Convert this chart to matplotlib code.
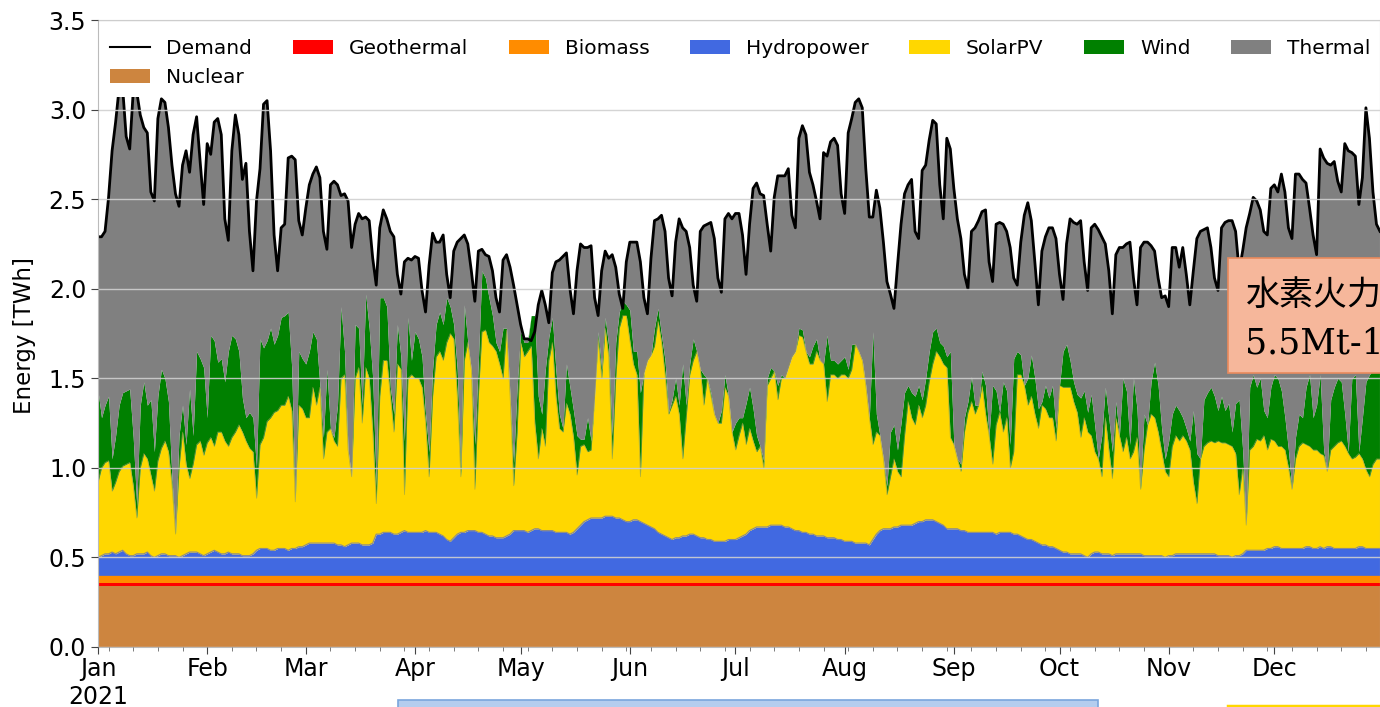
import numpy as np
import pandas as pd
import matplotlib
matplotlib.use('Agg')
import matplotlib.pyplot as plt
import matplotlib.dates as mdates
from matplotlib.patches import Rectangle
from matplotlib.lines import Line2D

# Daily values for 2021 [TWh]
dates = pd.date_range('2021-01-01', '2021-12-31', freq='D')

demand = [
    2.29, 2.29, 2.32, 2.51, 2.77, 2.93, 3.12, 3.12, 2.85, 2.78,
    3.10, 3.10, 2.97, 2.90, 2.87, 2.54, 2.49, 2.95, 3.06, 3.04,
    2.90, 2.69, 2.53, 2.46, 2.69, 2.77, 2.65, 2.86, 2.96, 2.71,
    2.47, 2.81, 2.75, 2.93, 2.95, 2.86, 2.39, 2.27, 2.77, 2.97,
    2.86, 2.61, 2.70, 2.32, 2.10, 2.49, 2.67, 3.03, 3.05, 2.77,
    2.30, 2.10, 2.34, 2.36, 2.73, 2.74, 2.72, 2.38, 2.30, 2.45,
    2.58, 2.64,
    2.68, 2.62, 2.32, 2.22, 2.58, 2.60, 2.58, 2.52, 2.53,
    2.49, 2.23, 2.36, 2.42, 2.39, 2.40, 2.38, 2.17, 2.02, 2.34,
    2.44, 2.39, 2.32, 2.29, 2.08, 1.97, 2.15, 2.17, 2.16, 2.18,
    2.17, 1.99, 1.87, 2.13, 2.31, 2.26, 2.26, 2.30, 2.08, 1.95,
    2.21, 2.26, 2.28, 2.30, 2.25, 2.10, 1.93, 2.21, 2.22, 2.19,
    2.18, 2.10, 1.95, 1.87, 2.16, 2.19, 2.12, 2.02, 1.91, 1.80,
    1.72, 1.72, 1.71, 1.76, 1.91, 1.99, 1.91, 1.81, 2.09, 2.15,
    2.16, 2.18, 2.20, 2.00, 1.86, 2.10, 2.25, 2.23, 2.23, 2.24,
    1.95, 1.85, 2.10, 2.21, 2.17, 2.19, 2.12, 1.97, 1.89, 2.15,
    2.26, 2.26, 2.26, 2.15, 1.95, 1.86, 2.17, 2.38, 2.39, 2.41,
    2.32, 2.06, 1.96, 2.26, 2.39, 2.34, 2.32, 2.23, 2.02, 1.93,
    2.32, 2.35, 2.36, 2.37, 2.28, 2.06, 1.98, 2.39, 2.42, 2.39,
    2.42, 2.42,
    2.30, 2.08, 2.36, 2.56, 2.59, 2.53, 2.52, 2.36, 2.21,
    2.51, 2.63, 2.63, 2.63, 2.67, 2.41, 2.34, 2.84, 2.91, 2.86,
    2.65, 2.58, 2.49, 2.39, 2.76, 2.74, 2.82, 2.84, 2.80, 2.53,
    2.42, 2.87, 2.95, 3.04, 3.06, 3.01, 2.67, 2.40, 2.40, 2.55,
    2.45, 2.26, 2.04, 1.97, 1.89, 2.13, 2.36, 2.53, 2.58, 2.61,
    2.32, 2.28, 2.66, 2.69, 2.83, 2.94, 2.92, 2.58, 2.39, 2.84,
    2.78, 2.56, 2.39, 2.28, 2.08, 2.00, 2.32, 2.34, 2.38, 2.43,
    2.44, 2.15, 2.04, 2.36, 2.37, 2.36, 2.32, 2.23, 2.06, 2.02,
    2.26, 2.41, 2.48, 2.38, 2.15, 1.91, 2.21, 2.29, 2.34, 2.34,
    2.28, 2.08, 1.94, 2.25, 2.39, 2.37, 2.36, 2.38, 2.15, 1.99,
    2.34, 2.36, 2.33, 2.29, 2.25, 2.10, 1.86, 2.19, 2.23, 2.23,
    2.25, 2.26, 2.06, 1.91, 2.23, 2.26, 2.26, 2.24, 2.21, 2.06,
    1.95, 1.96,
    1.90, 2.23, 2.23, 2.12, 2.23, 2.08, 1.91, 2.10, 2.28,
    2.32, 2.33, 2.34, 2.23, 2.06, 1.99, 2.34, 2.37, 2.38, 2.38,
    2.32, 2.10, 2.21, 2.34, 2.42, 2.51, 2.49, 2.44, 2.32, 2.30,
    2.56, 2.58, 2.54, 2.64, 2.54, 2.34, 2.28, 2.64, 2.64, 2.61,
    2.59, 2.45, 2.30, 2.19, 2.78, 2.73, 2.70, 2.69, 2.71, 2.60,
    2.54, 2.81, 2.77, 2.76, 2.74, 2.47, 2.62, 3.01, 2.84, 2.54,
    2.36, 2.32,
]

# top of the hydropower layer (stacked)
hydro_top = [
    0.50, 0.51, 0.52, 0.52, 0.53, 0.52, 0.53, 0.54, 0.52, 0.51,
    0.51, 0.52, 0.52, 0.52, 0.53, 0.51, 0.50, 0.51, 0.52, 0.52,
    0.51, 0.51, 0.51, 0.50, 0.51, 0.52, 0.53, 0.53, 0.53, 0.52,
    0.51, 0.52, 0.53, 0.54, 0.53, 0.52, 0.52, 0.53, 0.52, 0.52,
    0.52, 0.51, 0.51, 0.51, 0.52, 0.54, 0.55, 0.55, 0.55, 0.54,
    0.54, 0.55, 0.55, 0.55, 0.54, 0.55, 0.55, 0.56, 0.56, 0.57,
    0.58, 0.58,
    0.58, 0.58, 0.58, 0.58, 0.58, 0.58, 0.57, 0.57, 0.56,
    0.57, 0.58, 0.58, 0.58, 0.57, 0.57, 0.57, 0.58, 0.63, 0.63,
    0.64, 0.64, 0.64, 0.63, 0.63, 0.64, 0.65, 0.64, 0.64, 0.64,
    0.64, 0.64, 0.65, 0.64, 0.64, 0.64, 0.63, 0.62, 0.60, 0.59,
    0.61, 0.63, 0.64, 0.64, 0.65, 0.65, 0.65, 0.64, 0.64, 0.63,
    0.62, 0.62, 0.61, 0.61, 0.61, 0.62, 0.63, 0.65, 0.65, 0.65,
    0.65, 0.64, 0.65, 0.66, 0.66, 0.65, 0.65, 0.65, 0.65, 0.64,
    0.64, 0.64, 0.64, 0.63, 0.64, 0.66, 0.68, 0.70, 0.71, 0.72,
    0.72, 0.72, 0.72, 0.73, 0.73, 0.73, 0.72, 0.72, 0.71, 0.70,
    0.70, 0.71, 0.71, 0.70, 0.69, 0.68, 0.67, 0.66, 0.64, 0.63,
    0.62, 0.61, 0.60, 0.61, 0.61, 0.62, 0.62, 0.63, 0.63, 0.62,
    0.61, 0.61, 0.60, 0.60, 0.59, 0.59, 0.59, 0.59, 0.60, 0.60,
    0.60, 0.61,
    0.62, 0.63, 0.65, 0.66, 0.67, 0.67, 0.67, 0.67, 0.68,
    0.68, 0.68, 0.68, 0.67, 0.67, 0.66, 0.65, 0.65, 0.64, 0.64,
    0.63, 0.63, 0.62, 0.62, 0.62, 0.61, 0.61, 0.61, 0.60, 0.60,
    0.59, 0.59, 0.59, 0.58, 0.58, 0.58, 0.58, 0.57, 0.60, 0.63,
    0.65, 0.66, 0.66, 0.66, 0.67, 0.67, 0.68, 0.68, 0.68, 0.68,
    0.69, 0.70, 0.70, 0.71, 0.71, 0.71, 0.70, 0.69, 0.68, 0.66,
    0.66, 0.66, 0.66, 0.65, 0.65, 0.64, 0.64, 0.64, 0.64, 0.64,
    0.64, 0.64, 0.64, 0.63, 0.64, 0.64, 0.64, 0.64, 0.63, 0.63,
    0.62, 0.61, 0.60, 0.60, 0.59, 0.58, 0.57, 0.57, 0.56, 0.56,
    0.55, 0.54, 0.53, 0.53, 0.52, 0.52, 0.52, 0.52, 0.51, 0.50,
    0.52, 0.53, 0.53, 0.52, 0.52, 0.52, 0.51, 0.52, 0.52, 0.52,
    0.52, 0.52, 0.52, 0.52, 0.52, 0.51, 0.51, 0.51, 0.51, 0.51,
    0.51, 0.50,
    0.51, 0.51, 0.52, 0.52, 0.52, 0.52, 0.52, 0.52, 0.52,
    0.52, 0.52, 0.52, 0.52, 0.52, 0.51, 0.51, 0.51, 0.51, 0.50,
    0.51, 0.51, 0.52, 0.54, 0.54, 0.54, 0.54, 0.54, 0.54, 0.55,
    0.55, 0.56, 0.56, 0.55, 0.55, 0.55, 0.55, 0.55, 0.55, 0.55,
    0.56, 0.56, 0.55, 0.55, 0.56, 0.55, 0.56, 0.56, 0.55, 0.55,
    0.55, 0.55, 0.55, 0.55, 0.55, 0.56, 0.56, 0.55, 0.55, 0.55,
    0.55, 0.55,
]

# top of the solar PV layer (stacked)
solar_top = [
    0.92, 1.00, 1.03, 1.04, 0.87, 0.92, 0.98, 1.01, 1.02, 1.03,
    0.90, 0.72, 1.00, 1.08, 1.05, 0.96, 0.87, 1.04, 1.11, 1.15,
    1.09, 0.90, 0.63, 1.00, 1.20, 1.02, 0.94, 1.02, 1.13, 1.15,
    1.07, 1.14, 1.17, 1.12, 1.20, 1.20, 1.15, 1.12, 1.17, 1.20,
    1.24, 1.20, 1.15, 1.11, 1.09, 0.83, 1.13, 1.17, 1.26, 1.28,
    1.31, 1.32, 1.35, 1.35, 1.40, 1.32, 0.81, 1.35, 1.33, 1.28,
    1.28, 1.45,
    1.35, 1.45, 1.05, 1.20, 1.22, 1.15, 1.12, 1.50, 1.52,
    1.10, 0.95, 1.50, 1.56, 1.25, 1.56, 1.50, 1.20, 0.80, 1.40,
    1.60, 1.60, 1.40, 1.20, 1.58, 1.55, 0.85, 1.50, 1.52, 1.50,
    1.50, 1.45, 1.25, 0.95, 1.40, 1.62, 1.65, 1.60, 1.70, 1.75,
    1.72, 1.40, 0.95, 1.60, 1.70, 1.55, 0.88, 1.40, 1.76, 1.77,
    1.70, 1.68, 1.65, 1.58, 1.50, 1.77, 1.40, 0.90, 1.20, 1.70,
    1.62, 1.65, 1.68, 1.25, 1.05, 1.22, 1.12, 1.60, 1.70, 1.40,
    1.22, 1.20, 1.36, 1.30, 1.17, 0.96, 1.12, 1.13, 1.09, 1.10,
    1.40, 1.72, 1.50, 1.78, 1.62, 1.05, 1.50, 1.78, 1.85, 1.85,
    1.71, 1.58, 1.52, 0.95, 1.53, 1.60, 1.63, 1.68, 1.82, 1.70,
    1.52, 1.30, 1.35, 1.40, 1.30, 1.05, 1.28, 1.52, 1.60, 1.65,
    1.55, 1.35, 1.50, 1.40, 1.30, 1.25, 1.25, 1.45, 1.40, 1.20,
    1.10, 1.18,
    1.25, 1.13, 1.22, 1.15, 1.09, 1.12, 1.00, 1.46, 1.50,
    1.54, 1.38, 1.50, 1.50, 1.56, 1.62, 1.65, 1.74, 1.73, 1.65,
    1.58, 1.58, 1.65, 1.60, 1.58, 1.37, 1.52, 1.52, 1.50, 1.52,
    1.52, 1.50, 1.55, 1.69, 1.65, 1.60, 1.46, 1.28, 1.13, 1.20,
    1.18, 1.05, 0.85, 0.95, 1.05, 0.98, 0.95, 1.18, 1.37, 1.28,
    1.24, 1.35, 1.28, 1.35, 1.48, 1.58, 1.65, 1.62, 1.58, 1.56,
    1.17, 1.13, 1.05, 0.98, 1.20, 1.31, 1.37, 1.30, 1.35, 1.46,
    1.30, 1.18, 1.02, 1.24, 1.31, 1.20, 1.28, 1.00, 1.09, 1.52,
    1.52, 1.46, 1.35, 1.40, 1.30, 1.22, 1.35, 1.33, 1.28, 1.28,
    1.15, 1.46, 1.45, 1.45, 1.45, 1.37, 1.31, 1.17, 1.28, 1.20,
    1.18, 1.09, 1.05, 0.95, 1.28, 1.10, 0.94, 1.28, 1.18, 1.09,
    1.17, 1.05, 1.09, 1.17, 0.88, 1.10, 1.24, 1.30, 1.28, 1.20,
    1.09, 0.98,
    0.95, 1.12, 1.18, 1.15, 1.18, 1.15, 1.10, 0.92, 0.80,
    1.05, 1.12, 1.14, 1.15, 1.14, 1.15, 1.14, 1.14, 1.13, 1.12,
    1.08, 0.85, 1.00, 0.68, 1.10, 1.12, 1.16, 1.15, 1.18, 1.10,
    1.16, 1.15, 1.12, 1.12, 1.10, 1.00, 0.88, 1.05, 1.12, 1.14,
    1.13, 1.12, 1.10, 1.10, 1.08, 1.07, 0.98, 1.10, 1.12, 1.14,
    1.15, 1.12, 1.08, 1.05, 1.06, 1.08, 1.05, 0.99, 0.95, 1.02,
    1.05, 1.05,
]

# top of the wind layer (stacked)
wind_top = [
    1.43, 1.28, 1.35, 1.40, 1.05, 1.18, 1.35, 1.42, 1.43, 1.44,
    1.17, 0.79, 1.35, 1.48, 1.35, 1.38, 1.09, 1.40, 1.55, 1.50,
    1.37, 0.94, 0.64, 1.18, 1.35, 1.13, 1.44, 1.18, 1.65, 1.61,
    1.56, 1.28, 1.74, 1.71, 1.59, 1.61, 1.48, 1.65, 1.74, 1.72,
    1.65, 1.39, 1.28, 1.31, 1.28, 1.00, 1.72, 1.67, 1.71, 1.78,
    1.69, 1.74, 1.84, 1.85, 1.87, 1.56, 0.81, 1.65, 1.61, 1.58,
    1.65, 1.76,
    1.72, 1.46, 1.17, 1.55, 1.20, 1.17, 1.35, 1.90, 1.65,
    1.00, 0.92, 1.80, 1.78, 1.35, 1.97, 1.78, 1.50, 0.90, 1.95,
    1.95, 1.90, 1.45, 1.30, 1.80, 1.62, 1.15, 1.84, 1.60, 1.76,
    1.72, 1.62, 1.30, 1.09, 1.55, 1.80, 1.87, 1.80, 1.95, 1.90,
    1.80, 1.55, 1.00, 1.91, 1.60, 1.15, 1.13, 1.60, 2.10, 2.06,
    1.95, 1.85, 1.70, 1.65, 1.78, 1.78, 1.30, 1.03, 1.45, 1.76,
    1.70, 1.70, 1.85, 1.85, 1.40, 1.30, 1.55, 1.73, 1.84, 1.55,
    1.30, 1.22, 1.58, 1.45, 1.32, 1.18, 1.16, 1.16, 1.28, 1.15,
    1.38, 1.76, 1.55, 1.84, 1.68, 1.18, 1.70, 1.87, 1.93, 1.91,
    1.88, 1.65, 1.65, 1.42, 1.52, 1.58, 1.62, 1.78, 1.89, 1.74,
    1.60, 1.31, 1.38, 1.50, 1.35, 1.58, 1.35, 1.58, 1.72, 1.65,
    1.52, 1.52, 1.50, 1.42, 1.30, 1.22, 1.32, 1.52, 1.40, 1.20,
    1.25, 1.28,
    1.28, 1.36, 1.45, 1.33, 1.18, 1.10, 1.04, 1.50, 1.56,
    1.54, 1.46, 1.52, 1.48, 1.46, 1.58, 1.65, 1.78, 1.77, 1.65,
    1.62, 1.68, 1.72, 1.60, 1.52, 1.74, 1.60, 1.60, 1.58, 1.60,
    1.62, 1.55, 1.69, 1.64, 1.52, 1.42, 1.30, 1.15, 1.76, 1.30,
    1.08, 0.95, 0.90, 1.20, 1.24, 1.10, 1.25, 1.42, 1.46, 1.42,
    1.40, 1.46, 1.38, 1.50, 1.65, 1.76, 1.78, 1.70, 1.68, 1.62,
    1.65, 1.13, 1.04, 1.02, 1.28, 1.37, 1.51, 1.35, 1.28, 1.54,
    1.46, 1.18, 1.46, 1.43, 1.17, 1.48, 1.43, 1.13, 1.61, 1.65,
    1.63, 1.37, 1.50, 1.63, 1.50, 1.33, 1.37, 1.46, 1.39, 1.46,
    1.22, 1.41, 1.65, 1.69, 1.60, 1.48, 1.41, 1.39, 1.43, 1.31,
    1.41, 1.24, 0.94, 1.18, 1.45, 1.28, 1.09, 1.37, 1.18, 1.50,
    1.43, 1.13, 1.50, 1.33, 0.90, 1.30, 1.20, 1.48, 1.59, 1.46,
    1.22, 1.05,
    1.15, 1.30, 1.35, 1.32, 1.28, 1.22, 1.15, 1.32, 1.08,
    0.75, 1.38, 1.42, 1.45, 1.40, 1.32, 1.40, 1.32, 1.36, 1.20,
    1.36, 1.38, 1.10, 0.68, 1.45, 1.52, 1.45, 1.50, 1.32, 1.28,
    1.45, 1.52, 1.50, 1.43, 1.28, 1.10, 0.85, 1.17, 1.30, 1.28,
    1.45, 1.52, 1.28, 1.35, 1.52, 1.10, 0.92, 1.38, 1.45, 1.50,
    1.48, 1.30, 1.09, 1.50, 1.52, 1.09, 1.28, 1.48, 1.52, 1.55,
    1.55, 1.55,
]

# flat base layers (stack tops)
nuclear_top = 0.34
geothermal_top = 0.355
biomass_top = 0.40

demand = np.array(demand)
hydro_top = np.array(hydro_top)
solar_top = np.maximum(np.array(solar_top), hydro_top)
wind_top = np.maximum(np.array(wind_top), solar_top)
zero = np.zeros(len(dates))

fig = plt.figure(figsize=(13.8, 7.07), dpi=100)
ax = fig.add_axes([98 / 1380, 60 / 707, 1282 / 1380, 627 / 707])

h_nuc = ax.fill_between(dates, zero, zero + nuclear_top, color='peru', lw=0, label='Nuclear')
h_geo = ax.fill_between(dates, zero + nuclear_top, zero + geothermal_top, color='red', lw=0, label='Geothermal')
h_bio = ax.fill_between(dates, zero + geothermal_top, zero + biomass_top, color='darkorange', lw=0, label='Biomass')
h_hyd = ax.fill_between(dates, zero + biomass_top, hydro_top, color='royalblue', lw=0, label='Hydropower')
h_sol = ax.fill_between(dates, hydro_top, solar_top, color='gold', lw=0, label='SolarPV')
h_win = ax.fill_between(dates, solar_top, wind_top, color='green', lw=0, label='Wind')
h_the = ax.fill_between(dates, wind_top, np.maximum(demand, wind_top), color='grey', lw=0, label='Thermal')
ax.plot(dates, hydro_top, color='#8a8a8a', lw=0.8)
ax.plot(dates, solar_top, color='#a0a040', lw=0.5, alpha=0.7)
h_dem, = ax.plot(dates, demand, color='black', lw=2, label='Demand')

ax.set_xlim(dates[0], dates[-1])
ax.set_ylim(0, 3.5)
ax.set_yticks(np.arange(0, 3.51, 0.5))
ax.yaxis.set_major_formatter(plt.FormatStrFormatter('%.1f'))

ax.xaxis.set_major_locator(mdates.MonthLocator())
ax.xaxis.set_minor_locator(mdates.WeekdayLocator(byweekday=mdates.MO))


def month_fmt(x, pos):
    d = mdates.num2date(x)
    return d.strftime('%b\n%Y') if d.month == 1 else d.strftime('%b')


ax.xaxis.set_major_formatter(plt.FuncFormatter(month_fmt))
ax.tick_params(axis='both', which='major', labelsize=17, length=5, color='#444444')
ax.tick_params(axis='x', which='minor', length=3, color='#666666')
ax.tick_params(axis='x', pad=2)

ax.set_axisbelow(False)
ax.yaxis.grid(True, color='#d0d0d0', lw=1, alpha=0.9)
for s in ax.spines.values():
    s.set_color('#bbbbbb')

fig.text(25 / 1380, 1 - 335 / 707, 'Energy [TWh]', rotation=90, fontsize=16.5,
         ha='center', va='center')

# column-major fill: Nuclear ends up under Demand on the second row
handles = [h_dem, h_nuc, h_geo, h_bio, h_hyd, h_sol, h_win, h_the]
leg = ax.legend(handles, [h.get_label() for h in handles], loc='upper left',
                bbox_to_anchor=(-0.0016, 0.992), ncol=7, fontsize=14.5, frameon=True,
                framealpha=1, fancybox=False, edgecolor='none',
                borderaxespad=0.2, borderpad=0.5, labelspacing=0.5)
leg.get_lines()[0].set_linewidth(1.5)
leg.set_zorder(2.4)

# slide overlays around the chart
fig.patches.append(Rectangle((1228 / 1380, 1 - 373 / 707), 200 / 1380, 115 / 707,
                             transform=fig.transFigure, facecolor='#f6b79b',
                             edgecolor='#e98a5c', lw=1.2, zorder=5))
fig.text(1246 / 1380, 1 - 295 / 707, '水素火力', fontsize=24.5,
         family=['Noto Sans CJK JP', 'DejaVu Sans'], ha='left', va='center', zorder=6)
fig.text(1245 / 1380, 1 - 343 / 707, '5.5Mt-1', fontsize=25, family='DejaVu Serif',
         ha='left', va='center', zorder=6)
fig.patches.append(Rectangle((398 / 1380, -0.01), 700 / 1380, 7 / 707 + 0.01,
                             transform=fig.transFigure, facecolor='#b4cdee',
                             edgecolor='#7aa6dd', lw=1.2, zorder=5))
fig.lines.append(Line2D([1228 / 1380, 1.0], [1 - 705.5 / 707] * 2, transform=fig.transFigure,
                        color='gold', lw=2.5, zorder=5))

fig.savefig('out.png', dpi=100)
